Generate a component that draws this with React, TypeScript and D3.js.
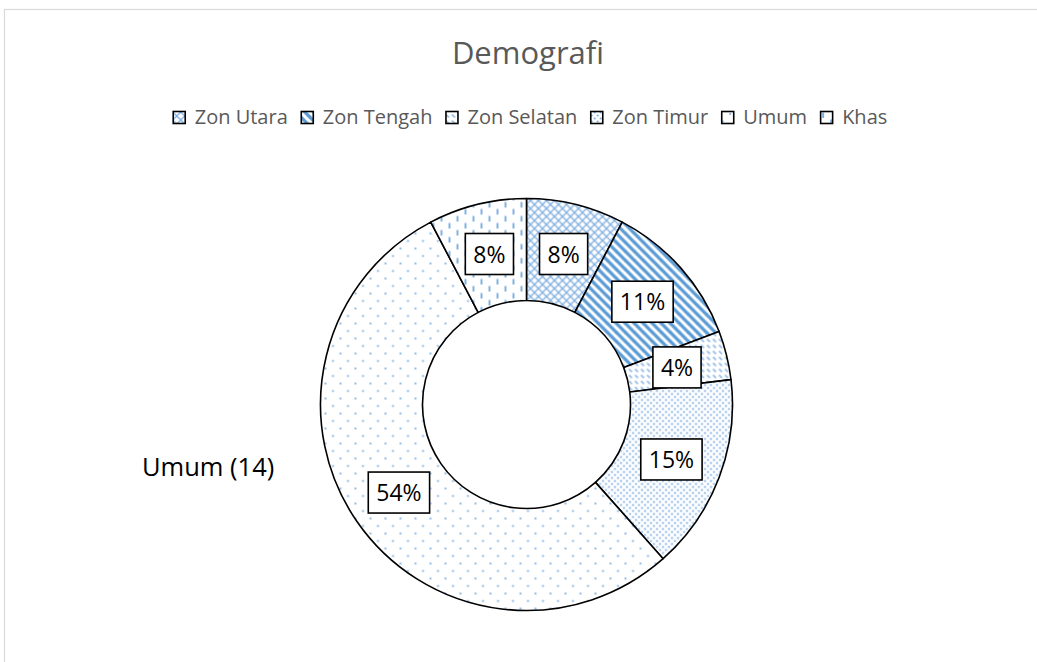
import React, { useEffect, useRef } from 'react';
import * as d3 from 'd3';

const title = 'Demografi';
const categories = ['Zon Utara', 'Zon Tengah', 'Zon Selatan', 'Zon Timur', 'Umum', 'Khas'];
const values = [2, 3, 1, 4, 14, 2];
const percentLabels = ['8%', '11%', '4%', '15%', '54%', '8%'];
const calloutLabel = 'Umum (14)';

const W = 1037;
const H = 662;
const FONT = "'Open Sans', 'Noto Sans', sans-serif";

export default function App() {
  const ref = useRef<SVGSVGElement | null>(null);

  useEffect(() => {
    const svg = d3.select(ref.current);
    svg.selectAll('*').remove();

    const defs = svg.append('defs');
    const lightBlue = '#7eaee0';
    const blue = '#5b9bd5';

    // 0 crosshatch
    const p0 = defs.append('pattern').attr('id', 'p0').attr('patternUnits', 'userSpaceOnUse').attr('width', 8).attr('height', 8);
    p0.append('rect').attr('width', 8).attr('height', 8).attr('fill', '#fff');
    p0.append('path').attr('d', 'M-1,-1L9,9M9,-1L-1,9').attr('stroke', lightBlue).attr('stroke-width', 1.3);
    // 1 wide downward diagonal
    const p1 = defs.append('pattern').attr('id', 'p1').attr('patternUnits', 'userSpaceOnUse').attr('width', 9).attr('height', 9);
    p1.append('rect').attr('width', 9).attr('height', 9).attr('fill', '#fff');
    p1.append('path').attr('d', 'M-1,-1L10,10M-1,8L1,10M8,-1L10,1').attr('stroke', blue).attr('stroke-width', 3.3);
    // 2 dashed downward diagonal
    const p2 = defs.append('pattern').attr('id', 'p2').attr('patternUnits', 'userSpaceOnUse').attr('width', 6).attr('height', 6);
    p2.append('rect').attr('width', 6).attr('height', 6).attr('fill', '#fff');
    p2.append('path').attr('d', 'M0.5,0.5L3.5,3.5').attr('stroke', lightBlue).attr('stroke-width', 1.4);
    // 3 dense dots
    const p3 = defs.append('pattern').attr('id', 'p3').attr('patternUnits', 'userSpaceOnUse').attr('width', 6).attr('height', 6);
    p3.append('rect').attr('width', 6).attr('height', 6).attr('fill', '#fff');
    p3.append('circle').attr('cx', 1.5).attr('cy', 1.5).attr('r', 1).attr('fill', '#6fa3dc');
    p3.append('circle').attr('cx', 4.5).attr('cy', 4.5).attr('r', 1).attr('fill', '#6fa3dc');
    // 4 sparse dots
    const p4 = defs.append('pattern').attr('id', 'p4').attr('patternUnits', 'userSpaceOnUse').attr('width', 15).attr('height', 15);
    p4.append('rect').attr('width', 15).attr('height', 15).attr('fill', '#fff');
    p4.append('circle').attr('cx', 1.5).attr('cy', 1.5).attr('r', 1.1).attr('fill', '#7aaee2');
    p4.append('circle').attr('cx', 9).attr('cy', 9).attr('r', 1.1).attr('fill', '#7aaee2');
    // 5 vertical dashes
    const p5 = defs.append('pattern').attr('id', 'p5').attr('patternUnits', 'userSpaceOnUse').attr('width', 16).attr('height', 14);
    p5.append('rect').attr('width', 16).attr('height', 14).attr('fill', '#fff');
    p5.append('path').attr('d', 'M3,0.5L3,6M11,7.5L11,13').attr('stroke', '#6aa4dc').attr('stroke-width', 1.7);

    // frame
    svg.append('rect').attr('x', 4.5).attr('y', 9.5).attr('width', W + 20).attr('height', H + 20)
      .attr('fill', '#fff').attr('stroke', '#d9d9d9').attr('stroke-width', 1.2);

    // title
    svg.append('text').attr('x', 528).attr('y', 64).attr('text-anchor', 'middle')
      .attr('font-family', FONT).attr('font-size', 31).attr('fill', '#595959').text(title);

    // legend
    const lg = svg.append('g');
    const items: { x: number; i: number }[] = [];
    const marker = 12;
    const gapIn = 10;
    const gapOut = 13;
    let x = 0;
    const temp = lg.append('g');
    categories.forEach((c, i) => {
      const t = temp.append('text').attr('font-family', FONT).attr('font-size', 20).text(c);
      const tw = (t.node() as SVGTextElement).getComputedTextLength();
      items.push({ x, i });
      x += marker + gapIn + tw + gapOut;
    });
    temp.remove();
    const total = x - gapOut;
    const startX = 530 - total / 2;
    items.forEach(({ x: ix, i }) => {
      const g = lg.append('g').attr('transform', `translate(${startX + ix},0)`);
      g.append('rect').attr('x', 0.5).attr('y', 111.5).attr('width', marker).attr('height', marker)
        .attr('fill', `url(#p${i})`).attr('stroke', '#000').attr('stroke-width', 1.6);
      g.append('text').attr('x', marker + gapIn).attr('y', 124).attr('font-family', FONT).attr('font-size', 20)
        .attr('fill', '#595959').text(categories[i]);
    });

    // donut
    const cx = 526.5;
    const cy = 404.5;
    const rOuter = 206;
    const rInner = 104;
    const pie = d3.pie<number>().sort(null).value(d => d);
    const arcs = pie(values);
    const arc = d3.arc<d3.PieArcDatum<number>>().innerRadius(rInner).outerRadius(rOuter);
    const g = svg.append('g').attr('transform', `translate(${cx},${cy})`);
    g.selectAll('path.slice').data(arcs).enter().append('path')
      .attr('class', 'slice')
      .attr('d', d => arc(d) as string)
      .attr('fill', (_, i) => `url(#p${i})`)
      .attr('stroke', '#000').attr('stroke-width', 1.6).attr('stroke-linejoin', 'round');

    arcs.forEach((a, i) => {
      const [lx, ly] = arc.centroid(a);
      const lab = g.append('g').attr('transform', `translate(${lx},${ly})`);
      const t = lab.append('text').attr('text-anchor', 'middle').attr('y', 8.5)
        .attr('font-family', FONT).attr('font-size', 23).attr('fill', '#000').text(percentLabels[i]);
      const tw = (t.node() as SVGTextElement).getComputedTextLength();
      lab.insert('rect', 'text').attr('x', -(tw + 16) / 2).attr('y', -20.5)
        .attr('width', tw + 16).attr('height', 41).attr('fill', '#fff')
        .attr('stroke', '#000').attr('stroke-width', 1.6);
    });

    svg.append('text').attr('x', 142).attr('y', 476).attr('font-family', FONT).attr('font-size', 25.5)
      .attr('fill', '#000').text(calloutLabel);
  }, []);

  return (
    <svg ref={ref} width={W} height={H}
      style={{ position: 'absolute', left: 0, top: 0, display: 'block', background: '#fff' }} />
  );
}
